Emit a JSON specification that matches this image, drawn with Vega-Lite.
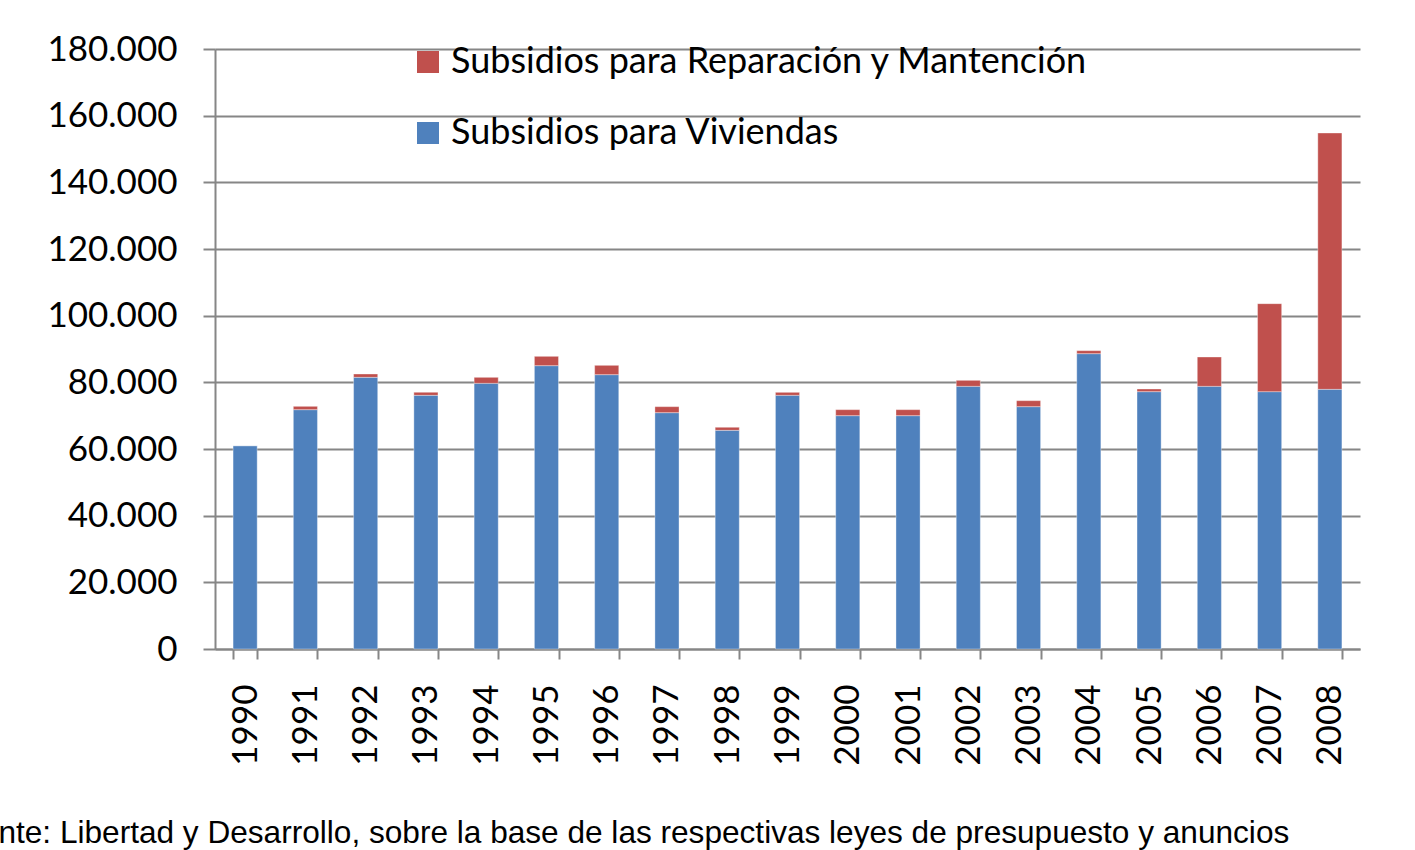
{
  "$schema": "https://vega.github.io/schema/vega-lite/v6.json",
  "width": 1145,
  "height": 600,
  "autosize": {"type": "none"},
  "padding": {"left": 215, "top": 49, "right": 55, "bottom": 201},
  "background": "white",
  "title": {
    "text": "Fuente: Libertad y Desarrollo, sobre la base de las respectivas leyes de presupuesto y anuncios",
    "orient": "bottom",
    "anchor": "start",
    "frame": "group",
    "font": "Liberation Sans",
    "fontSize": 31.6,
    "fontWeight": "normal",
    "color": "black",
    "offset": 53,
    "dx": -271
  },
  "data": {
    "values": [
      {"anio": "1990", "serie": "Subsidios para Viviendas", "valor": 61000},
      {"anio": "1990", "serie": "Subsidios para Reparación y Mantención", "valor": 0},
      {"anio": "1991", "serie": "Subsidios para Viviendas", "valor": 71800},
      {"anio": "1991", "serie": "Subsidios para Reparación y Mantención", "valor": 1000},
      {"anio": "1992", "serie": "Subsidios para Viviendas", "valor": 81500},
      {"anio": "1992", "serie": "Subsidios para Reparación y Mantención", "valor": 1000},
      {"anio": "1993", "serie": "Subsidios para Viviendas", "valor": 76100},
      {"anio": "1993", "serie": "Subsidios para Reparación y Mantención", "valor": 900},
      {"anio": "1994", "serie": "Subsidios para Viviendas", "valor": 79700},
      {"anio": "1994", "serie": "Subsidios para Reparación y Mantención", "valor": 1800},
      {"anio": "1995", "serie": "Subsidios para Viviendas", "valor": 85000},
      {"anio": "1995", "serie": "Subsidios para Reparación y Mantención", "valor": 2800},
      {"anio": "1996", "serie": "Subsidios para Viviendas", "valor": 82300},
      {"anio": "1996", "serie": "Subsidios para Reparación y Mantención", "valor": 2800},
      {"anio": "1997", "serie": "Subsidios para Viviendas", "valor": 70900},
      {"anio": "1997", "serie": "Subsidios para Reparación y Mantención", "valor": 1800},
      {"anio": "1998", "serie": "Subsidios para Viviendas", "valor": 65600},
      {"anio": "1998", "serie": "Subsidios para Reparación y Mantención", "valor": 900},
      {"anio": "1999", "serie": "Subsidios para Viviendas", "valor": 76100},
      {"anio": "1999", "serie": "Subsidios para Reparación y Mantención", "valor": 900},
      {"anio": "2000", "serie": "Subsidios para Viviendas", "valor": 70000},
      {"anio": "2000", "serie": "Subsidios para Reparación y Mantención", "valor": 1800},
      {"anio": "2001", "serie": "Subsidios para Viviendas", "valor": 70000},
      {"anio": "2001", "serie": "Subsidios para Reparación y Mantención", "valor": 1800},
      {"anio": "2002", "serie": "Subsidios para Viviendas", "valor": 78800},
      {"anio": "2002", "serie": "Subsidios para Reparación y Mantención", "valor": 1800},
      {"anio": "2003", "serie": "Subsidios para Viviendas", "valor": 72700},
      {"anio": "2003", "serie": "Subsidios para Reparación y Mantención", "valor": 1800},
      {"anio": "2004", "serie": "Subsidios para Viviendas", "valor": 88600},
      {"anio": "2004", "serie": "Subsidios para Reparación y Mantención", "valor": 900},
      {"anio": "2005", "serie": "Subsidios para Viviendas", "valor": 77200},
      {"anio": "2005", "serie": "Subsidios para Reparación y Mantención", "valor": 800},
      {"anio": "2006", "serie": "Subsidios para Viviendas", "valor": 78800},
      {"anio": "2006", "serie": "Subsidios para Reparación y Mantención", "valor": 8800},
      {"anio": "2007", "serie": "Subsidios para Viviendas", "valor": 77200},
      {"anio": "2007", "serie": "Subsidios para Reparación y Mantención", "valor": 26400},
      {"anio": "2008", "serie": "Subsidios para Viviendas", "valor": 77900},
      {"anio": "2008", "serie": "Subsidios para Reparación y Mantención", "valor": 76900}
    ]
  },
  "mark": {"type": "bar", "stroke": "#ffffff", "strokeOpacity": 0.35, "strokeWidth": 1},
  "encoding": {
    "x": {
      "field": "anio",
      "type": "nominal",
      "title": null,
      "scale": {"paddingInner": 0.6, "paddingOuter": 0.3},
      "axis": {
        "labelAngle": 270,
        "labelAlign": "right",
        "labelBaseline": "middle",
        "labelFont": "Lato",
        "labelFontSize": 35,
        "labelColor": "black",
        "labelPadding": 25,
        "tickBand": "extent",
        "tickSize": 10,
        "tickWidth": 2,
        "tickColor": "#868686",
        "domainColor": "#868686",
        "domainWidth": 2
      }
    },
    "y": {
      "field": "valor",
      "type": "quantitative",
      "stack": "zero",
      "title": null,
      "scale": {"domain": [0, 180000], "nice": false},
      "axis": {
        "values": [0, 20000, 40000, 60000, 80000, 100000, 120000, 140000, 160000, 180000],
        "format": ",d",
        "labelFont": "Lato",
        "labelFontSize": 35,
        "labelColor": "black",
        "labelPadding": 26,
        "tickSize": 12,
        "tickWidth": 2,
        "tickColor": "#868686",
        "domainColor": "#868686",
        "domainWidth": 2,
        "grid": true,
        "gridColor": "#868686",
        "gridWidth": 2
      }
    },
    "color": {
      "field": "serie",
      "type": "nominal",
      "scale": {
        "domain": ["Subsidios para Reparación y Mantención", "Subsidios para Viviendas"],
        "range": ["#C0504D", "#4F81BD"]
      },
      "legend": {
        "title": null,
        "orient": "none",
        "legendX": 195,
        "legendY": -5,
        "padding": 0,
        "symbolType": "square",
        "symbolSize": 484,
        "symbolStrokeWidth": 0,
        "symbolOpacity": 1,
        "labelFont": "Lato",
        "labelFontSize": 36,
        "labelColor": "black",
        "labelOffset": 5,
        "labelLimit": 1000,
        "rowPadding": 35
      }
    },
    "order": {"field": "serie", "sort": "descending"}
  },
  "config": {
    "locale": {
      "number": {"decimal": ",", "thousands": ".", "grouping": [3], "currency": ["$", ""]}
    },
    "view": {"stroke": null}
  }
}
